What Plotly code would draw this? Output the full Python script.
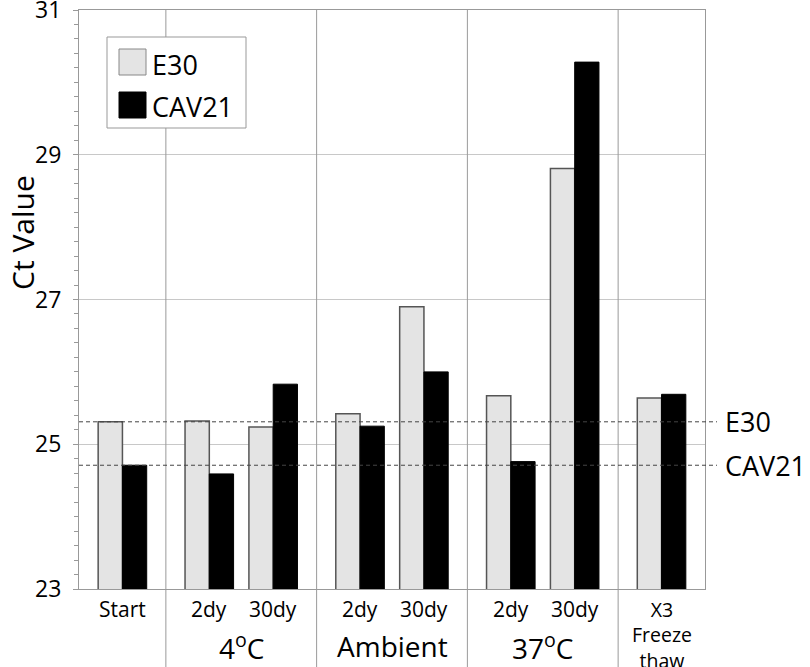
import plotly.graph_objects as go

# ---- data ----
group_labels = ["", "4<sup>o</sup>C", "Ambient", "37<sup>o</sup>C", ""]
sub_labels = [["Start"], ["2dy", "30dy"], ["2dy", "30dy"], ["2dy", "30dy"], ["X3<br>Freeze<br>thaw"]]
e30_values = [25.31, 25.32, 25.24, 25.42, 26.90, 25.67, 28.81, 25.64]
cav21_values = [24.71, 24.59, 25.83, 25.25, 26.00, 24.76, 30.28, 25.69]
y_ticks = [23, 25, 27, 29, 31]

# ---- layout helpers ----
W, H = 810, 667
L, R, T, B = 79, 705, 10, 589
def px(x):
    return (x - L) / (R - L)
def py(y):
    return (B - y) / (B - T)

FONT = "'Open Sans', sans-serif"
pad, step, bw = 0.68, 1.0, 0.38

centers, seps, group_centers = [], [], []
pos = 0.0
for gi, subs in enumerate(sub_labels):
    start = pos
    c = pos + pad
    for _ in subs:
        centers.append(c)
        c += step
    pos = start + 2 * pad + step * (len(subs) - 1)
    group_centers.append((start + pos) / 2)
    if gi < len(sub_labels) - 1:
        seps.append(pos)
x_max = pos

fig = go.Figure()
fig.add_trace(go.Bar(x=centers, y=e30_values, width=bw, offset=-bw, name="E30",
                     marker=dict(color="#e4e4e4", line=dict(color="#555555", width=1.5))))
fig.add_trace(go.Bar(x=centers, y=cav21_values, width=bw, offset=0, name="CAV21",
                     marker=dict(color="#000000", line=dict(color="#000000", width=1))))

shapes = []
for s in seps:
    shapes.append(dict(type="line", xref="x", yref="paper", x0=s, x1=s, y0=py(667), y1=1,
                       line=dict(color="#9a9a9a", width=1), layer="above"))
for v in (e30_values[0], cav21_values[0]):
    shapes.append(dict(type="line", xref="paper", yref="y", x0=0, x1=px(717), y0=v, y1=v,
                       line=dict(color="#444444", width=1, dash="4px,3px"), layer="above"))
shapes.append(dict(type="rect", xref="paper", yref="paper", x0=px(107), x1=px(246),
                   y0=py(128), y1=py(37), line=dict(color="#999999", width=1),
                   fillcolor="white", layer="above"))
shapes.append(dict(type="rect", xref="paper", yref="paper", x0=px(119), x1=px(146),
                   y0=py(75), y1=py(49), line=dict(color="#888888", width=1),
                   fillcolor="#e4e4e4", layer="above"))
shapes.append(dict(type="rect", xref="paper", yref="paper", x0=px(119), x1=px(146),
                   y0=py(118), y1=py(92), line=dict(color="#000000", width=1),
                   fillcolor="#000000", layer="above"))

def txt(size):
    return dict(size=size, family=FONT, color="black")

ann = []
ann.append(dict(text="E30", xref="paper", yref="paper", x=px(150), y=py(64), xanchor="left",
                yanchor="middle", showarrow=False, font=txt(27)))
ann.append(dict(text="CAV21", xref="paper", yref="paper", x=px(150), y=py(106), xanchor="left",
                yanchor="middle", showarrow=False, font=txt(27)))
ann.append(dict(text="E30", xref="paper", yref="y", x=px(723), y=e30_values[0], xanchor="left",
                yanchor="middle", showarrow=False, font=txt(27)))
ann.append(dict(text="CAV21", xref="paper", yref="y", x=px(723), y=cav21_values[0], xanchor="left",
                yanchor="middle", showarrow=False, font=txt(27)))
k = 0
for gi, subs in enumerate(sub_labels):
    for s in subs:
        if "<br>" in s:
            ann.append(dict(text=s, xref="x", yref="paper", x=centers[k], y=py(594),
                            yanchor="top", showarrow=False, font=txt(19.5)))
        else:
            ann.append(dict(text=s, xref="x", yref="paper", x=centers[k], y=py(609),
                            yanchor="middle", showarrow=False, font=txt(21)))
        k += 1
for gi, g in enumerate(group_labels):
    if g:
        ann.append(dict(text=g, xref="x", yref="paper", x=group_centers[gi], y=py(646),
                        yanchor="middle", showarrow=False, font=txt(28)))
ann.append(dict(text="Ct Value", xref="paper", yref="paper", x=px(22), y=py(233), textangle=-90,
                xanchor="center", yanchor="middle", showarrow=False, font=txt(30)))

fig.update_layout(
    width=W, height=H, autosize=False,
    margin=dict(l=L, r=W - R, t=T, b=H - B, pad=0),
    paper_bgcolor="white", plot_bgcolor="white",
    barmode="overlay", showlegend=False,
    shapes=shapes, annotations=ann,
    xaxis=dict(range=[0, x_max], showticklabels=False, ticks="", showgrid=False, zeroline=False,
               showline=True, linecolor="#999999", linewidth=1, mirror=True, automargin=False),
    yaxis=dict(range=[23, 31], tickvals=y_ticks, ticks="outside", ticklen=5, tickcolor="#999999",
               showgrid=True, gridcolor="#c8c8c8", gridwidth=1, zeroline=False,
               showline=True, linecolor="#999999", linewidth=1, mirror=True,
               automargin=False, ticklabeloverflow="allow", ticklabelstandoff=7,
               tickfont=txt(23),
               minor=dict(dtick=0.2, ticks="outside", ticklen=4, tickcolor="#999999", showgrid=False)),
)

fig.write_html("out.html", config={"displayModeBar": False},
               post_script="document.body.style.margin='0';document.body.style.overflow='hidden';")
